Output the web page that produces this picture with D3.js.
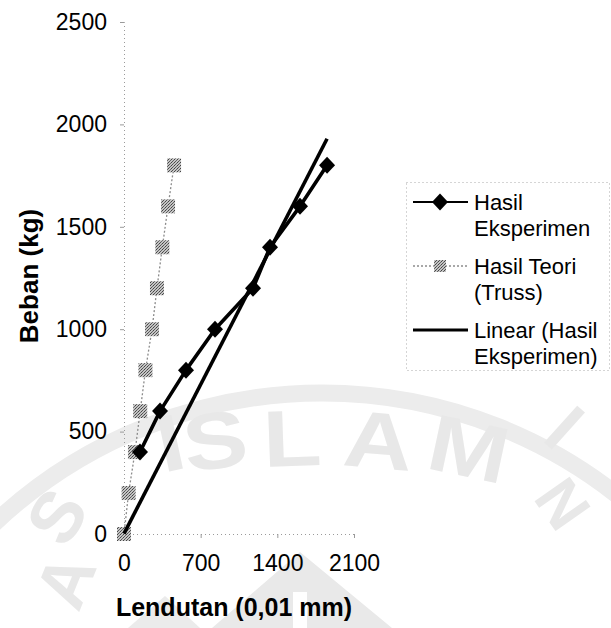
<!DOCTYPE html>
<html>
<head>
<meta charset="utf-8">
<script src="https://cdn.jsdelivr.net/npm/d3@7/dist/d3.min.js"></script>
<style>
  html, body { margin: 0; padding: 0; background: #fff; }
  svg { display: block; }
  text { font-family: "Liberation Sans", Arial, sans-serif; }
</style>
</head>
<body>
<div id="chart"></div>
<script>
// Load (kg) applied at each step
const loadExp = [400, 600, 800, 1000, 1200, 1400, 1600, 1800];
// Measured deflection (0.01 mm)
const deflExp = [146, 329, 566, 831, 1178, 1333, 1607, 1854];

const loadTheory = [0, 200, 400, 600, 800, 1000, 1200, 1400, 1600, 1800];
const deflTheory = [0, 42, 100, 148, 196, 256, 301, 350, 402, 457];

// Linear trend of the experimental series: load = slope * deflection + intercept
const trendSlope = 1.04;
const trendIntercept = 2;

const xTicks = [0, 700, 1400, 2100];
const yTicks = [0, 500, 1000, 1500, 2000, 2500];

const legendLabels = [
  ["Hasil", "Eksperimen"],
  ["Hasil Teori", "(Truss)"],
  ["Linear (Hasil", "Eksperimen)"]
];

const W = 611, H = 628;
const svg = d3.select("#chart").append("svg")
  .attr("width", W).attr("height", H)
  .attr("viewBox", `0 0 ${W} ${H}`);
const defs = svg.append("defs");

svg.append("rect").attr("width", W).attr("height", H).attr("fill", "#fff");

// ---- faint background emblem ----
const wm = svg.append("g");
wm.append("circle").attr("cx", 322).attr("cy", 870).attr("r", 477)
  .attr("fill", "none").attr("stroke", "#ececec").attr("stroke-width", 17);
// emblem lettering: [glyph, x, y, rotation, size, horizontal stretch]
const emblemGlyphs = [
  ["S", 78, 530, -58, 72, 1.0], ["A", 88, 590, -68, 70, 1.0],
  ["I", 176, 470, -12, 80, 1.2], ["S", 219, 468, -8, 80, 1.2], ["L", 293, 466, -2, 80, 1.2],
  ["A", 376, 468, 5, 80, 1.2], ["M", 463, 476, 12, 80, 1.2],
  ["I", 548, 446, 42, 72, 1.0], ["N", 545, 516, 55, 62, 1.0]
];
wm.selectAll("text.emblem").data(emblemGlyphs).join("text")
  .attr("class", "emblem")
  .attr("transform", d => `translate(${d[1]},${d[2]}) rotate(${d[3]}) scale(${d[5]},1)`)
  .attr("text-anchor", "middle").attr("font-size", d => d[4]).attr("font-weight", "bold")
  .attr("fill", "#e8e8e8").text(d => d[0]);
wm.append("path").attr("fill", "#e9e9e9").attr("fill-rule", "evenodd")
  .attr("d", "M212,628 L300,552 L392,628 Z M293,628 L293,592 L307,592 L307,628 Z");
wm.append("path").attr("fill", "#ebebeb")
  .attr("d", "M128,628 L165,596 L200,628 Z");

// ---- scales ----
const x = d3.scaleLinear().domain([0, 2100]).range([124, 354]);
const y = d3.scaleLinear().domain([0, 2500]).range([534, 22]);

const axisColor = "#9a9a9a";
const fmt = d3.format("d");

// y axis
const yAxis = d3.axisLeft(y).tickValues(yTicks).tickFormat(fmt).tickSize(4).tickPadding(13);
const gy = svg.append("g").attr("transform", `translate(${x(0)},0)`).call(yAxis)
  .attr("font-family", null).attr("font-size", null);
gy.select(".domain").attr("stroke", axisColor).attr("stroke-dasharray", "1,3");
gy.selectAll(".tick line").attr("stroke", axisColor);
gy.selectAll(".tick text").attr("font-size", 23).attr("fill", "#000");

// x axis
const xAxis = d3.axisBottom(x).tickValues(xTicks).tickFormat(fmt).tickSize(4).tickPadding(17);
const gx = svg.append("g").attr("transform", `translate(0,${y(0)})`).call(xAxis)
  .attr("font-family", null).attr("font-size", null);
gx.select(".domain").attr("stroke", axisColor).attr("stroke-dasharray", "1,3");
gx.selectAll(".tick line").attr("stroke", axisColor);
gx.selectAll(".tick text").attr("font-size", 23).attr("fill", "#000");

// axis titles
svg.append("text")
  .attr("transform", `translate(38,276) rotate(-90)`)
  .attr("text-anchor", "middle").attr("font-weight", "bold").attr("font-size", 26)
  .text("Beban (kg)");
svg.append("text")
  .attr("x", 234).attr("y", 616)
  .attr("text-anchor", "middle").attr("font-weight", "bold").attr("font-size", 25)
  .text("Lendutan (0,01 mm)");

// grainy grey fill for the theory markers
const pat = defs.append("pattern").attr("id", "grain")
  .attr("width", 3).attr("height", 3).attr("patternUnits", "userSpaceOnUse");
pat.append("rect").attr("width", 3).attr("height", 3).attr("fill", "#c4c4c4");
pat.append("rect").attr("width", 1).attr("height", 1).attr("fill", "#444");
pat.append("rect").attr("x", 2).attr("y", 1).attr("width", 1).attr("height", 1).attr("fill", "#666");
pat.append("rect").attr("x", 1).attr("y", 2).attr("width", 1).attr("height", 1).attr("fill", "#555");

const line = d3.line().x(d => x(d[0])).y(d => y(d[1]));

// theory series
const theory = deflTheory.map((d, i) => [d, loadTheory[i]]);
svg.append("path").datum(theory).attr("d", line)
  .attr("fill", "none").attr("stroke", "#8c8c8c").attr("stroke-width", 1.3)
  .attr("stroke-dasharray", "2,2");
const sq = 14;
svg.append("g").selectAll("rect").data(theory).join("rect")
  .attr("x", d => x(d[0]) - sq / 2).attr("y", d => y(d[1]) - sq / 2)
  .attr("width", sq).attr("height", sq).attr("fill", "url(#grain)");

// linear trend of experimental data
const trendDomain = [0, d3.max(deflExp)];
svg.append("path").datum(trendDomain.map(v => [v, trendSlope * v + trendIntercept]))
  .attr("d", line).attr("fill", "none").attr("stroke", "#000").attr("stroke-width", 3.6)
  .attr("stroke-linecap", "butt");

// experimental series
const exp = deflExp.map((d, i) => [d, loadExp[i]]);
svg.append("path").datum(exp).attr("d", line)
  .attr("fill", "none").attr("stroke", "#000").attr("stroke-width", 3.6)
  .attr("stroke-linejoin", "round");
const diamond = "M0,-8.5L8,0L0,8.5L-8,0Z";
svg.append("g").selectAll("path").data(exp).join("path")
  .attr("transform", d => `translate(${x(d[0])},${y(d[1])})`)
  .attr("d", diamond).attr("fill", "#000");

// ---- legend ----
const lg = svg.append("g");
lg.append("rect").attr("x", 406.5).attr("y", 182.5).attr("width", 203).attr("height", 188)
  .attr("fill", "none").attr("stroke", "#aaa").attr("stroke-dasharray", "1,3");
const rowY = [202, 266, 330];
legendLabels.forEach((lines, i) => {
  const cy = rowY[i];
  if (i === 0) {
    lg.append("line").attr("x1", 413).attr("x2", 468).attr("y1", cy).attr("y2", cy)
      .attr("stroke", "#000").attr("stroke-width", 2.2);
    lg.append("path").attr("transform", `translate(440,${cy})`).attr("d", diamond).attr("fill", "#000");
  } else if (i === 1) {
    lg.append("line").attr("x1", 413).attr("x2", 468).attr("y1", cy).attr("y2", cy)
      .attr("stroke", "#8c8c8c").attr("stroke-width", 1.3).attr("stroke-dasharray", "2,2");
    lg.append("rect").attr("x", 434).attr("y", cy - 6).attr("width", 12).attr("height", 12)
      .attr("fill", "url(#grain)");
  } else {
    lg.append("line").attr("x1", 413).attr("x2", 468).attr("y1", cy).attr("y2", cy)
      .attr("stroke", "#000").attr("stroke-width", 3.2);
  }
  lines.forEach((t, j) => {
    lg.append("text").attr("x", 474).attr("y", cy + 8 + j * 26)
      .attr("font-size", 22).attr("fill", "#000").text(t);
  });
});
</script>
</body>
</html>
